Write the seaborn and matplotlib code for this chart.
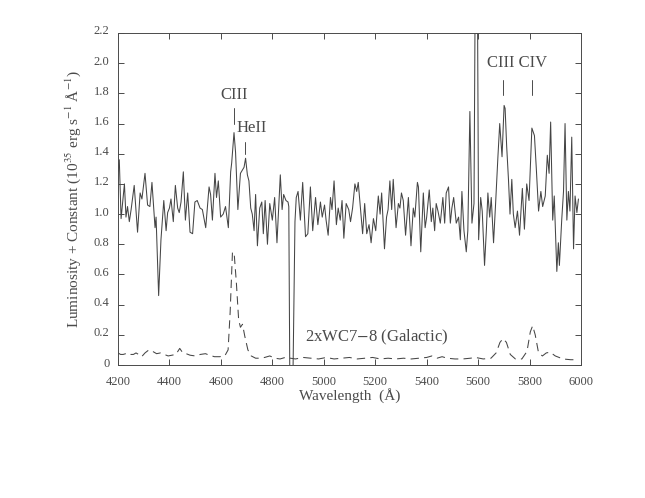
import numpy as np
import pandas as pd
import matplotlib
matplotlib.use("Agg")
import matplotlib.pyplot as plt
import matplotlib.transforms as mtransforms
import seaborn as sns

solid_wl = [4200, 4205, 4212, 4225, 4231, 4237, 4244, 4251, 4263, 4276, 4286, 4293, 4305, 4315,
            4324, 4332, 4344, 4348, 4358, 4367, 4378, 4387, 4393, 4400, 4406, 4415, 4423, 4432,
            4438, 4445, 4454, 4462, 4471, 4480, 4490, 4499, 4508, 4519, 4528, 4541, 4554, 4560,
            4567, 4577, 4583, 4590, 4599, 4609, 4618, 4629, 4638, 4642, 4651, 4657, 4666, 4676,
            4683, 4690, 4696, 4703, 4709, 4716, 4722, 4729, 4735, 4742, 4751, 4759, 4765, 4772,
            4781, 4790, 4800, 4809, 4818, 4831, 4838, 4844, 4853, 4861, 4864, 4868, 4880, 4888,
            4893, 4900, 4909, 4918, 4929, 4938, 4948, 4957, 4968, 4977, 4987, 4994, 5003, 5009,
            5017, 5026, 5032, 5040, 5049, 5056, 5064, 5071, 5078, 5087, 5097, 5104, 5112, 5121,
            5128, 5134, 5143, 5151, 5159, 5167, 5176, 5184, 5193, 5202, 5212, 5219, 5225, 5236,
            5244, 5250, 5257, 5264, 5270, 5281, 5290, 5296, 5302, 5309, 5318, 5329, 5339, 5348,
            5354, 5364, 5368, 5377, 5387, 5394, 5400, 5410, 5418, 5424, 5431, 5437, 5444, 5453,
            5463, 5470, 5476, 5485, 5492, 5498, 5505, 5515, 5524, 5531, 5537, 5545, 5554, 5560,
            5568, 5576, 5584, 5589, 5597, 5602, 5610, 5616, 5625, 5632, 5638, 5645, 5651, 5660,
            5668, 5677, 5684, 5693, 5701, 5705, 5711, 5718, 5724, 5731, 5737, 5744, 5753, 5761,
            5772, 5780, 5789, 5798, 5809, 5819, 5826, 5835, 5844, 5851, 5861, 5869, 5876, 5882,
            5890, 5896, 5906, 5912, 5916, 5925, 5932, 5938, 5945, 5951, 5957, 5964, 5971, 5977,
            5984, 5990]
solid_flux = [1.28, 1.36, 0.97, 1.20, 0.98, 1.05, 0.95, 1.03, 1.19, 0.88, 1.14, 1.10, 1.27, 1.06,
              1.05, 1.21, 0.91, 0.98, 0.46, 0.83, 1.09, 0.89, 1.01, 1.04, 1.10, 0.95, 1.19, 1.04,
              1.01, 1.08, 1.28, 0.96, 1.14, 0.88, 0.87, 1.08, 1.09, 1.04, 1.03, 0.91, 1.18, 1.13,
              0.96, 1.27, 1.11, 1.22, 0.98, 1.00, 1.05, 0.91, 1.28, 1.34, 1.54, 1.41, 1.03, 1.27,
              1.29, 1.31, 1.37, 1.26, 1.22, 1.04, 1.00, 0.89, 1.13, 0.79, 1.04, 1.08, 0.87, 1.09,
              0.80, 1.07, 0.96, 1.11, 0.81, 1.26, 1.03, 1.13, 1.09, 1.08, 1.05, -0.1, -0.1, 0.95,
              1.11, 1.15, 0.96, 1.21, 0.85, 0.87, 1.18, 0.89, 1.11, 0.93, 1.08, 0.98, 1.06, 0.96,
              0.86, 1.11, 1.03, 1.22, 0.93, 1.04, 0.96, 1.09, 0.84, 1.07, 1.03, 0.95, 1.04, 1.20,
              1.15, 1.21, 1.03, 0.87, 1.07, 0.87, 0.93, 0.81, 0.97, 0.89, 1.12, 1.00, 1.14, 0.77,
              0.98, 1.03, 1.22, 1.03, 1.23, 0.91, 1.07, 1.04, 1.14, 1.09, 0.86, 1.11, 0.79, 1.04,
              0.98, 1.21, 1.18, 0.75, 1.14, 0.91, 0.98, 1.16, 0.95, 1.04, 0.89, 1.07, 1.02, 0.94,
              1.11, 0.94, 1.14, 1.18, 0.94, 1.04, 1.11, 0.94, 0.98, 0.83, 1.15, 0.89, 0.75, 0.89,
              1.68, 0.94, 1.07, 2.60, 2.60, 0.83, 1.11, 1.02, 0.66, 0.89, 1.14, 0.98, 1.11, 0.81,
              1.07, 1.38, 1.60, 1.38, 1.72, 1.70, 1.45, 1.23, 1.00, 1.23, 1.00, 0.91, 1.02, 0.86,
              1.17, 0.90, 1.20, 1.09, 1.57, 1.52, 1.31, 1.02, 1.15, 1.05, 1.12, 1.39, 1.27, 1.61,
              0.96, 1.12, 0.62, 0.81, 0.66, 0.96, 1.15, 1.60, 0.96, 1.15, 1.02, 1.51, 0.77, 1.12,
              1.01, 1.10]

# Galactic 2xWC7-8 template (dashed)
gal_wl = [4200, 4210, 4220, 4230, 4240, 4250, 4260, 4270, 4280, 4292, 4305, 4320, 4335, 4350,
          4365, 4380, 4395, 4410, 4425, 4440, 4452, 4465, 4480, 4500, 4520, 4540, 4555, 4575,
          4595, 4615, 4628, 4636, 4645, 4652, 4660, 4669, 4676, 4684, 4693, 4705, 4718, 4735,
          4750, 4770, 4790, 4810, 4830, 4850, 4870, 4890, 4920, 4950, 4980, 5010, 5040, 5070,
          5100, 5130, 5160, 5190, 5220, 5250, 5280, 5310, 5340, 5370, 5400, 5420, 5440, 5460,
          5480, 5510, 5540, 5570, 5590, 5620, 5650, 5670, 5685, 5697, 5710, 5725, 5745, 5770,
          5790, 5803, 5812, 5822, 5835, 5850, 5865, 5880, 5900, 5930, 5960, 5990]
gal_flux = [0.08, 0.07, 0.07, 0.075, 0.08, 0.07, 0.07, 0.08, 0.07, 0.055, 0.08, 0.10, 0.09, 0.075,
            0.08, 0.07, 0.06, 0.065, 0.07, 0.11, 0.08, 0.075, 0.065, 0.06, 0.07, 0.075, 0.065, 0.055,
            0.055, 0.06, 0.10, 0.35, 0.75, 0.73, 0.55, 0.30, 0.25, 0.27, 0.19, 0.10, 0.06, 0.045,
            0.045, 0.05, 0.06, 0.045, 0.04, 0.05, 0.045, 0.04, 0.05, 0.045, 0.04, 0.05, 0.04, 0.045,
            0.05, 0.04, 0.045, 0.05, 0.04, 0.045, 0.04, 0.045, 0.04, 0.045, 0.05, 0.06, 0.045, 0.055,
            0.045, 0.04, 0.04, 0.045, 0.05, 0.04, 0.045, 0.08, 0.15, 0.175, 0.15, 0.07, 0.04, 0.04,
            0.09, 0.22, 0.26, 0.20, 0.08, 0.06, 0.08, 0.085, 0.06, 0.04, 0.035, 0.035]

xticks = [4200, 4400, 4600, 4800, 5000, 5200, 5400, 5600, 5800, 6000]
yticks = [0, 0.2, 0.4, 0.6, 0.8, 1.0, 1.2, 1.4, 1.6, 1.8, 2.0, 2.2]
ytick_labels = ["0", "0.2", "0.4", "0.6", "0.8", "1.0", "1.2", "1.4", "1.6", "1.8", "2.0", "2.2"]

sns.set_style("ticks")
plt.rcParams['font.family'] = ['Liberation Serif', 'DejaVu Serif']
plt.rcParams['mathtext.fontset'] = 'stix'

ink = "#4a4a4a"
fig = plt.figure(figsize=(6.45, 4.98), dpi=100)
ax = fig.add_axes([118 / 645, 1 - 365 / 498, 463 / 645, 332 / 498])

solid = pd.DataFrame({"wl": solid_wl, "flux": solid_flux})
gal = pd.DataFrame({"wl": gal_wl, "flux": gal_flux})
sns.lineplot(data=solid, x="wl", y="flux", ax=ax, color="#454545", lw=0.75,
             estimator=None, sort=False)
sns.lineplot(data=gal, x="wl", y="flux", ax=ax, color="#454545", lw=0.75,
             estimator=None, sort=False)
ax.lines[-1].set_dashes([8, 5])

ax.set_xlim(4200, 6000)
ax.set_ylim(0, 2.2)
ax.set_xticks(xticks)
ax.set_yticks(yticks)
ax.set_yticklabels(ytick_labels)
ax.tick_params(direction="in", length=4, width=0.7, colors=ink, labelsize=9,
               top=True, right=True, labelcolor=ink)
ax.tick_params(axis="x", pad=8)
ax.tick_params(axis="y", pad=6)
# y tick labels sit a little above their ticks in the original
shift = mtransforms.ScaledTranslation(0, 3 / 100, fig.dpi_scale_trans)
for lab in ax.get_yticklabels():
    lab.set_transform(lab.get_transform() + shift)
for s in ax.spines.values():
    s.set_color(ink)
    s.set_linewidth(0.7)

ax.set_xlabel("Wavelength  (Å)", fontsize=11, color=ink, labelpad=0)
ax.set_ylabel("Luminosity + Constant (10$^{35}$ erg s$^{-1}$ Å$^{-1}$)",
              fontsize=11, color=ink, labelpad=8)

# line identifications
ax.text(4650, 1.79, "CIII", fontsize=12, color=ink, ha="center", va="center")
ax.plot([4651, 4651], [1.60, 1.70], color=ink, lw=0.7)
ax.text(4660, 1.57, "HeII", fontsize=12, color=ink, ha="left", va="center")
ax.plot([4694, 4694], [1.40, 1.48], color=ink, lw=0.7)
ax.text(5752, 2.0, "CIII CIV", fontsize=12, color=ink, ha="center", va="center")
ax.plot([5697, 5697], [1.79, 1.89], color=ink, lw=0.7)
ax.plot([5810, 5810], [1.79, 1.89], color=ink, lw=0.7)
ax.text(4927, 0.185, "2xWC7$-$8 (Galactic)", fontsize=12, color=ink, ha="left", va="center")

plt.savefig("out.png", dpi=100)
